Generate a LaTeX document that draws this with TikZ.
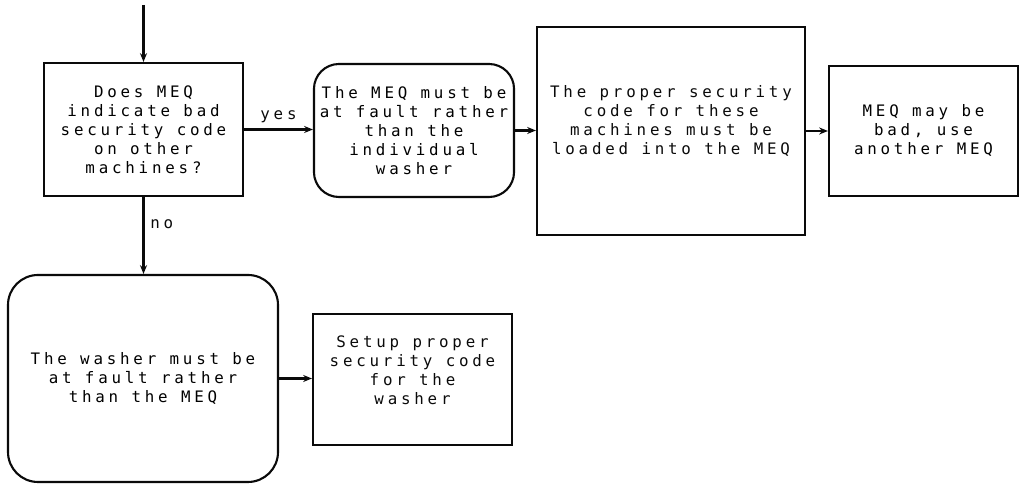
\documentclass[tikz,border=0pt]{standalone}
\usepackage{fontspec}
\usepackage{tikz}
\usetikzlibrary{arrows.meta, positioning, calc}
\newfontfamily\plotfont{DejaVu Sans Mono}[LetterSpace=24]
\definecolor{InkBlack}{RGB}{10, 10, 10}

\begin{document}
\begin{tikzpicture}[
            box/.style={draw=InkBlack, line width=1.2pt, minimum width=3.98cm, minimum height=2.66cm, align=center, font=\fontsize{9}{10.8}\plotfont},
            roundbox/.style={box, rounded corners=0.5cm},
            flow/.style={draw=InkBlack, line width=1.2pt, -{Stealth[length=5pt, width=4pt]}},
            lbl/.style={font=\fontsize{9}{10.8}\plotfont, text=InkBlack}
        ]
        \useasboundingbox (0,0) rectangle (20.38,9.68);

        % The Boxes
        \node[box] (b1) at (2.87,7.09) {Does MEQ\\indicate bad\\security code\\on other\\machines?};
        \node[roundbox] (b2) at (8.28,7.07) {The MEQ must be\\at fault rather\\than the\\individual\\washer};
        \node[box, minimum width=5.36cm, minimum height=4.16cm] (b3) at (13.42,7.06) {};
        \node[lbl, align=center] (t3) at (13.42,7.26) {The proper security\\code for these\\machines must be\\loaded into the MEQ};
        \node[box, minimum width=3.78cm, minimum height=2.6cm] (b4) at (18.47,7.06) {MEQ may be\\bad, use\\another MEQ};
        \node[roundbox, rounded corners=0.6cm, minimum width=5.4cm, minimum height=4.14cm] (b5) at (2.86,2.11) {The washer must be\\at fault rather\\than the MEQ};
        \node[box, minimum height=2.62cm] (b6) at (8.25,2.09) {};
        \node[lbl, align=center] (t6) at (8.25,2.27) {Setup proper\\security code\\for the\\washer};

        % Arrows
        \coordinate (start) at (2.87,9.58);
        \draw[flow] (start) -- (b1.north);
        \draw[flow] (b1.east) -- (b1.east -| b2.west) node[midway, above, lbl] {yes};
        \draw[flow] (b2.east) -- (b2.east -| b3.west);
        \draw[flow] (b3.east) -- (b3.east -| b4.west);
        \draw[flow] (b1.south) -- (b1.south |- b5.north) node[pos=0.35, right, lbl] {no};
        \draw[flow] (b5.east) -- (b5.east -| b6.west);

        \end{tikzpicture}
\end{document}
